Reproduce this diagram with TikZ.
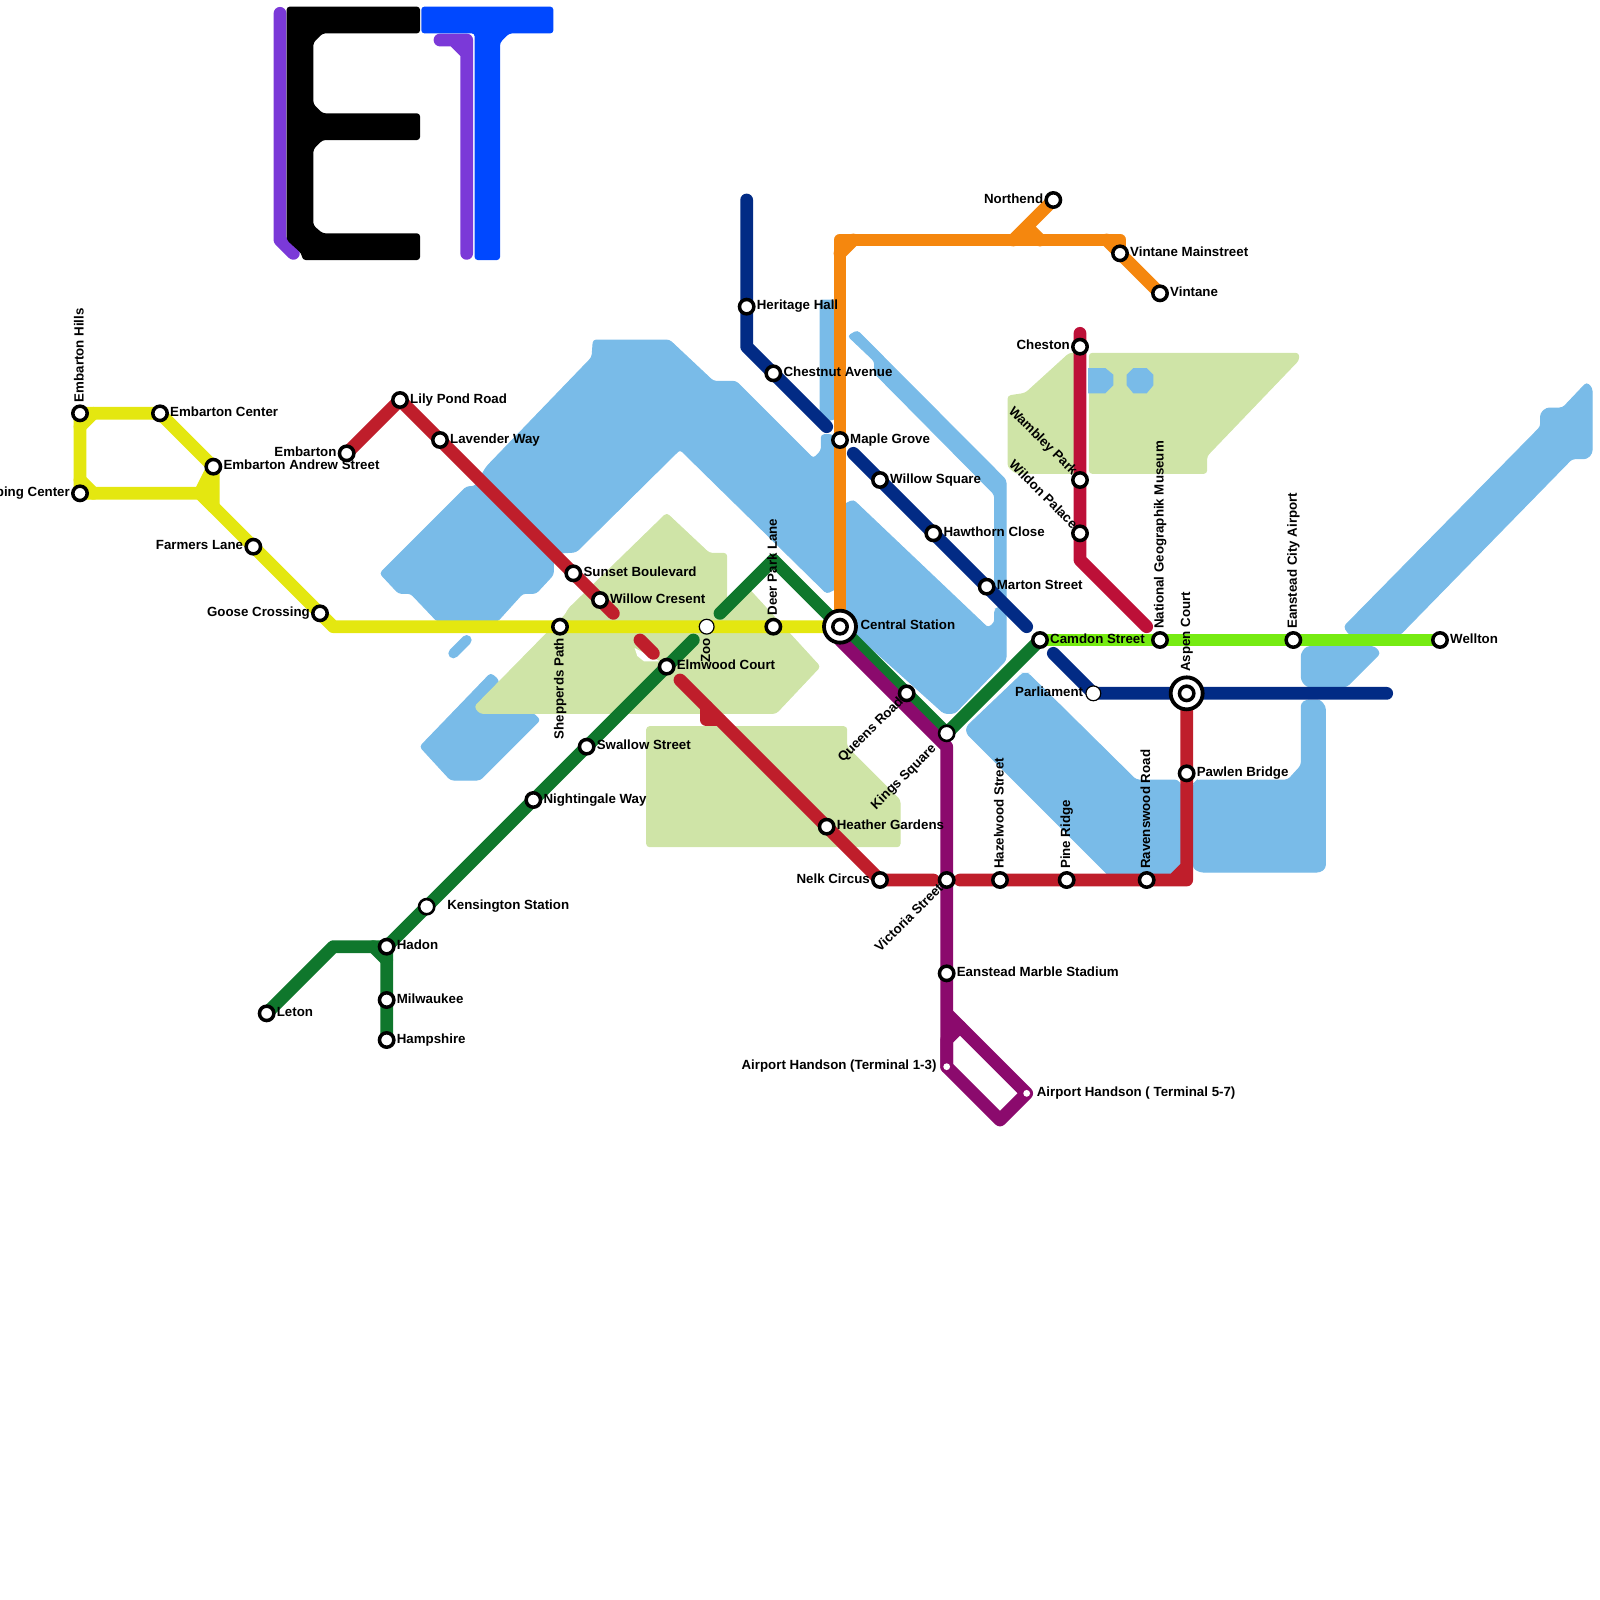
\documentclass[tikz,border=0pt]{standalone}
\usepackage{fontspec}
\setmainfont{Liberation Sans}[BoldFont={Liberation Sans Bold}]
\definecolor{cYel}{HTML}{E4E710}
\definecolor{cRed}{HTML}{BF1E2B}
\definecolor{cCri}{HTML}{BD1038}
\definecolor{cGrn}{HTML}{0F772C}
\definecolor{cPur}{HTML}{8B0A6D}
\definecolor{cNav}{HTML}{022B85}
\definecolor{cOra}{HTML}{F5870E}
\definecolor{cLim}{HTML}{76EB12}
\definecolor{cVio}{HTML}{7B39D8}
\definecolor{cBlu}{HTML}{0048FF}
\definecolor{cWat}{HTML}{79BBE8}
\definecolor{cPrk}{HTML}{CFE4A7}
\tikzset{
 x=6.6667pt,y=-6.6667pt,
 rail/.style={draw=#1,line width=6.4pt,line cap=round,line join=round},
 water/.style={fill=cWat,draw=cWat,line width=0.5pt,rounded corners=1.5pt},
 park/.style={fill=cPrk,draw=cPrk,line width=0.5pt,rounded corners=1.5pt},
 stn/.style={circle,draw=black,fill=white,line width=1.75pt,minimum size=7.2pt,inner sep=0pt},
 opn/.style={circle,draw=black,fill=white,line width=0.6pt,minimum size=7.4pt,inner sep=0pt},
 dotn/.style={circle,fill=white,minimum size=3.4pt,inner sep=0pt},
 hub/.style={circle,draw=black,fill=white,line width=1.9pt,minimum size=16pt,inner sep=0pt},
 lbl/.style={inner sep=0pt,text height=4.8pt,text depth=1.3pt,font=\fontsize{6.65}{7}\selectfont\bfseries,text=black},
 lr/.style={lbl,anchor=west,xshift=4.9pt,yshift=0.2pt},
 ll/.style={lbl,anchor=east,xshift=-4.9pt,yshift=0.2pt},
 lu/.style={lbl,anchor=west,rotate=90,xshift=5.4pt},
 ld/.style={lbl,anchor=east,rotate=90,xshift=-5.4pt},
 lne/.style={lbl,anchor=east,rotate=45,xshift=-4pt,yshift=-0.4pt},
 lnw/.style={lbl,anchor=east,rotate=-45,xshift=-4pt,yshift=0.4pt},
}
\begin{document}
\begin{tikzpicture}
\useasboundingbox (0,0) rectangle (120,120);
% water
\fill[water] (44.5,25.5)--(50.2,25.5)--(53.5,28.6)--(55.2,28.6)--(61,34.4)--(61.6,33.8)--(61.6,32.6)--(62.4,32.6)--(63,33)--(63,44)--(62,44.5)--(61.6,44.1)--(51,33.7)--(43.2,41.4)--(41.5,41.5)--(41.5,43.1)--(40.2,44.5)--(39.2,44.5)--(37.3,46.6)--(32.8,46.6)--(30.8,44.5)--(29.9,44.5)--(28.5,43)--(35,36.5)--(35.6,36.5)--(36.5,35)--(44.4,26.8)--cycle;
\draw[draw=cWat,line width=5pt,line cap=round] (34,49)--(35,48);
\fill[water] (31.5,56)--(36.8,50.5)--(37.4,51)--(37,53.5)--(40,53.5)--(40.5,54)--(36,58.5)--(33.8,58.5)--cycle;
\fill[water] (61.5,22.5)--(62.5,22.5)--(63,24)--(63,31)--(62.5,31.5)--(61.5,31.5)--cycle;
\fill[water] (63.6,25.2)--(64.3,24.8)--(75.45,36)--(75.45,45)--(74.6,45)--(74.6,37.1)--(65.6,28)--(65.6,27.1)--cycle;
\fill[water] (63,38)--(64,37.5)--(74.1,47.1)--(74.6,46.7)--(74.6,45.7)--(75,45.5)--(75.45,46)--(75.45,49.5)--(71.6,53.5)--(70.8,53.5)--(63,46.5)--cycle;
\fill[water] (76.7,50.5)--(77.1,50.5)--(85.2,58.5)--(88.3,58.5)--(88.6,58.9)--(88.6,65)--(87.5,66)--(83.5,66)--(72.5,55)--(72.5,54.5)--cycle;
\fill[water] (89.5,58.8)--(89.8,58.5)--(96.6,58.5)--(97.6,57.4)--(97.6,52.75)--(98,52.5)--(99,52.5)--(99.4,53)--(99.4,65.1)--(99,65.4)--(90,65.4)--(89.5,65.1)--cycle;
\fill[water] (97.6,49)--(98,48.5)--(103.1,48.5)--(103.5,49)--(101,51.5)--(98,51.5)--(97.6,51)--cycle;
\fill[water] (100.8,47)--(115.55,32)--(115.55,31)--(116,30.6)--(117.2,30.6)--(119,28.7)--(119.4,29.1)--(119.4,34)--(119,34.4)--(117.9,34.4)--(105,47.6)--(101.2,47.6)--cycle;
% parks
\fill[park] (50,38.5)--(53.2,41.5)--(54.5,41.5)--(54.5,45.4)--(56,44)--(61.5,50)--(58.2,53.5)--(36,53.5)--(35.6,53)--(41,47.5)--(42.5,46)--(42.6,45.7)--cycle;
\fill[white] (47.6,48.6)--(47.8,49.2)--(48.3,49.6)--(49.5,49.6)--cycle;
\fill[park] (48.5,54.5)--(63.5,54.5)--(63.5,56)--(67.5,60)--(67.5,63.5)--(48.5,63.5)--cycle;
\fill[park] (75.6,29.7)--(76.9,29.5)--(80.2,26.5)--(81,26.5)--(81,35.5)--(76.2,35.5)--(75.6,35)--cycle;
\fill[park] (81.7,26.5)--(97.4,26.5)--(97.4,27)--(90.5,34.2)--(90.5,35.5)--(81.7,35.5)--cycle;
\fill[cWat] (81.6,27.6)--(82.9,27.6)--(83.5,28.1)--(83.5,28.9)--(82.9,29.5)--(81.6,29.5)--cycle;
\fill[cWat] (85,27.6)--(86,27.6)--(86.5,28.1)--(86.5,28.9)--(86,29.5)--(85,29.5)--(84.5,28.9)--(84.5,28.1)--cycle;
% logo
\draw[rail=cVio] (21,1)--(21,18)--(22,19);
\draw[rail=cVio] (33,3)--(35,3)--(35,19) (34,3)--(35,4);
\fill[black,rounded corners=1.5pt] (21.5,0.5)--(31.5,0.5)--(31.5,2.5)--(24.2,2.5)--(23.5,3.2)--(23.5,7.8)--(24.2,8.5)--(31.5,8.5)--(31.5,10.5)--(24.2,10.5)--(23.5,11.2)--(23.5,16.9)--(24.2,17.5)--(31.5,17.5)--(31.5,19.5)--(22.7,19.5)--(22.6,19)--(21.5,18)--cycle;
\fill[cBlu,rounded corners=1.5pt] (31.6,0.5)--(41.5,0.5)--(41.5,2.5)--(38.2,2.5)--(37.5,3.2)--(37.5,19.5)--(35.6,19.5)--(35.6,2.5)--(31.6,2.5)--cycle;
% station positions
\coordinate (hills) at (6,31);
\coordinate (center) at (12,31);
\coordinate (andrew) at (16,35);
\coordinate (shopping) at (6,37);
\coordinate (farmers) at (19,41);
\coordinate (goose) at (24,46);
\coordinate (lily) at (30,30);
\coordinate (embarton) at (26,34);
\coordinate (lavender) at (33,33);
\coordinate (sunset) at (43,43);
\coordinate (willowc) at (45,45);
\coordinate (shepperds) at (42,47);
\coordinate (zoo) at (53,47);
\coordinate (deer) at (58,47);
\coordinate (central) at (63,47);
\coordinate (elmwood) at (50,50);
\coordinate (swallow) at (44,56);
\coordinate (nightingale) at (40,60);
\coordinate (kensington) at (32,68);
\coordinate (hadon) at (29,71);
\coordinate (milwaukee) at (29,75);
\coordinate (hampshire) at (29,78);
\coordinate (leton) at (20,76);
\coordinate (kings) at (71,55);
\coordinate (camdon) at (78,48);
\coordinate (queens) at (68,52);
\coordinate (victoria) at (71,66);
\coordinate (stadium) at (71,73);
\coordinate (t13) at (71,80);
\coordinate (t57) at (77,82);
\coordinate (nelk) at (66,66);
\coordinate (heather) at (62,62);
\coordinate (hazelwood) at (75,66);
\coordinate (pine) at (80,66);
\coordinate (ravenswood) at (86,66);
\coordinate (aspen) at (89,52);
\coordinate (pawlen) at (89,58);
\coordinate (cheston) at (81,26);
\coordinate (wambley) at (81,36);
\coordinate (wildon) at (81,40);
\coordinate (museum) at (87,48);
\coordinate (airport) at (97,48);
\coordinate (wellton) at (108,48);
\coordinate (heritage) at (56,23);
\coordinate (chestnut) at (58,28);
\coordinate (maple) at (63,33);
\coordinate (willows) at (66,36);
\coordinate (hawthorn) at (70,40);
\coordinate (marton) at (74,44);
\coordinate (parliament) at (82,52);
\coordinate (northend) at (79,15);
\coordinate (mainstreet) at (84,19);
\coordinate (vintane) at (87,22);
% free line ends and bends
\coordinate (redA) at (46,46);\coordinate (redB) at (48,48);\coordinate (redC) at (49,49);\coordinate (redD) at (51,51);
\coordinate (redE) at (70,66);\coordinate (redF) at (72,66);\coordinate (redG) at (89,66);
\coordinate (criA) at (81,25);\coordinate (criB) at (81,42);\coordinate (criC) at (86,47);
\coordinate (navA) at (56,15);\coordinate (navB) at (56,26);\coordinate (navC) at (62,32);\coordinate (navD) at (64,34);\coordinate (navE) at (77,47);\coordinate (navF) at (79,49);\coordinate (navG) at (104,52);
\coordinate (orgA) at (63,18);\coordinate (orgB) at (84,18);\coordinate (orgC) at (83,18);\coordinate (orgD) at (76,18);
\coordinate (grnA) at (25,71);\coordinate (grnB) at (52,48);\coordinate (grnC) at (54,46);\coordinate (grnD) at (58,42);
\coordinate (purA) at (63,48);\coordinate (purB) at (71,56);\coordinate (purC) at (71,76);\coordinate (purD) at (75,84);
\coordinate (yelA) at (15,37);\coordinate (yelB) at (25,47);\coordinate (yelC) at (16,38);
% lines
\draw[rail=cYel] (hills)--(center)--(andrew)--(yelC);
\draw[rail=cYel] (hills)--(shopping)--(yelA)--(andrew);
\draw[rail=cYel] (yelA)--(yelB)--(central);
\draw[rail=cYel] (6,32)--(7,31) (6,36)--(7,37) (yelC)--(15,37);
\draw[rail=cOra] (central)--(orgA)--(orgB)--(84,19);
\draw[rail=cOra] (orgC)--(vintane);
\draw[rail=cOra] (orgD)--(northend) (77,17)--(78,18) (63,19)--(64,18);
\draw[rail=cLim] (camdon)--(wellton);
\draw[rail=cNav] (navA)--(navB)--(navC);
\draw[rail=cNav] (navD)--(navE);
\draw[rail=cNav] (navF)--(parliament)--(navG);
\draw[rail=cGrn] (leton)--(grnA)--(hadon)--(hampshire);
\draw[rail=cGrn] (28,71)--(29,72) (hadon)--(grnB);
\draw[rail=cGrn] (grnC)--(grnD)--(kings)--(camdon);
\draw[rail=cPur] (purA)--(purB)--(t13)--(purD)--(t57)--(purC);
\draw[rail=cPur] (t13)--(71,78)--(72,77);
\draw[rail=cRed] (embarton)--(lily)--(redA);
\draw[rail=cRed] (redB)--(redC);
\draw[rail=cRed] (redD)--(nelk)--(redE);
\draw[rail=cRed] (53,53)--(53,54)--(54,54);
\draw[rail=cRed] (redF)--(redG)--(aspen) (88,66)--(89,65);
\draw[rail=cCri] (criA)--(criB)--(criC);
% stations
\foreach \n in {hills,center,andrew,shopping,farmers,goose,lily,embarton,lavender,sunset,willowc,shepperds,deer,elmwood,swallow,nightingale,hadon,milwaukee,hampshire,leton,camdon,queens,victoria,stadium,nelk,heather,hazelwood,pine,ravenswood,pawlen,cheston,wambley,wildon,museum,airport,wellton,heritage,chestnut,maple,willows,hawthorn,marton,northend,mainstreet,vintane}{\node[stn] (s-\n) at (\n) {};}
\node[opn] (s-zoo) at (zoo) {};
\node[opn] (s-parliament) at (parliament) {};
\node[stn,line width=1.3pt,minimum size=7.6pt] (s-kensington) at (kensington) {};
\node[stn,line width=1.3pt,minimum size=7.6pt] (s-kings) at (kings) {};
\node[dotn] (s-t13) at (t13) {};
\node[dotn] (s-t57) at (t57) {};
\node[hub] (h-central) at (central) {};
\node[stn] (s-central) at (central) {};
\node[hub] (h-aspen) at (aspen) {};
\node[stn] (s-aspen) at (aspen) {};
% labels
\node[lu] (l1) at (hills) {Embarton Hills};
\node[lr] (l2) at (center) {Embarton Center};
\node[lr] (l3) at (andrew) {Embarton Andrew Street};
\node[ll] (l4) at (shopping) {Shopping Center};
\node[ll] (l5) at (farmers) {Farmers Lane};
\node[ll] (l6) at (goose) {Goose Crossing};
\node[lr] (l7) at (lily) {Lily Pond Road};
\node[ll] (l8) at (embarton) {Embarton};
\node[lr] (l9) at (lavender) {Lavender Way};
\node[lr] (l10) at (sunset) {Sunset Boulevard};
\node[lr] (l11) at (willowc) {Willow Cresent};
\node[ld] (l12) at (shepperds) {Shepperds Path};
\node[ld] (l13) at (zoo) {Zoo};
\node[lu] (l14) at (deer) {Deer Park Lane};
\node[lr,xshift=5.2pt] (l15) at (central) {Central Station};
\node[lr] (l16) at (elmwood) {Elmwood Court};
\node[lr] (l17) at (swallow) {Swallow Street};
\node[lr] (l18) at (nightingale) {Nightingale Way};
\node[lr,xshift=5.2pt] (l19) at (kensington) {Kensington Station};
\node[lr] (l20) at (hadon) {Hadon};
\node[lr] (l21) at (milwaukee) {Milwaukee};
\node[lr] (l22) at (hampshire) {Hampshire};
\node[lr] (l23) at (leton) {Leton};
\node[lne] (l24) at (queens) {Queens Road};
\node[lne,xshift=-5pt] (l25) at (kings) {Kings Square};
\node[lne] (l26) at (victoria) {Victoria Street};
\node[lr] (l27) at (stadium) {Eanstead Marble Stadium};
\node[ll] (l28) at (t13) {Airport Handson (Terminal 1-3)};
\node[lr] (l29) at (t57) {Airport Handson ( Terminal 5-7)};
\node[ll] (l30) at (nelk) {Nelk Circus};
\node[lr] (l31) at (heather) {Heather Gardens};
\node[lu] (l32) at (hazelwood) {Hazelwood Street};
\node[lu] (l33) at (pine) {Pine Ridge};
\node[lu] (l34) at (ravenswood) {Ravenswood Road};
\node[lu,xshift=5.2pt] (l35) at (aspen) {Aspen Court};
\node[lr] (l36) at (pawlen) {Pawlen Bridge};
\node[ll] (l37) at (cheston) {Cheston};
\node[lnw] (l38) at (wambley) {Wambley Park};
\node[lnw] (l39) at (wildon) {Wildon Palace};
\node[lu] (l40) at (museum) {National Geographik Museum};
\node[lu] (l41) at (airport) {Eanstead City Airport};
\node[lr] (l42) at (wellton) {Wellton};
\node[lr] (l43) at (heritage) {Heritage Hall};
\node[lr] (l44) at (chestnut) {Chestnut Avenue};
\node[lr] (l45) at (maple) {Maple Grove};
\node[lr] (l46) at (willows) {Willow Square};
\node[lr] (l47) at (hawthorn) {Hawthorn Close};
\node[lr] (l48) at (marton) {Marton Street};
\node[lr] (l49) at (camdon) {Camdon Street};
\node[ll] (l50) at (parliament) {Parliament};
\node[ll] (l51) at (northend) {Northend};
\node[lr] (l52) at (mainstreet) {Vintane Mainstreet};
\node[lr] (l53) at (vintane) {Vintane};
\end{tikzpicture}
\end{document}
